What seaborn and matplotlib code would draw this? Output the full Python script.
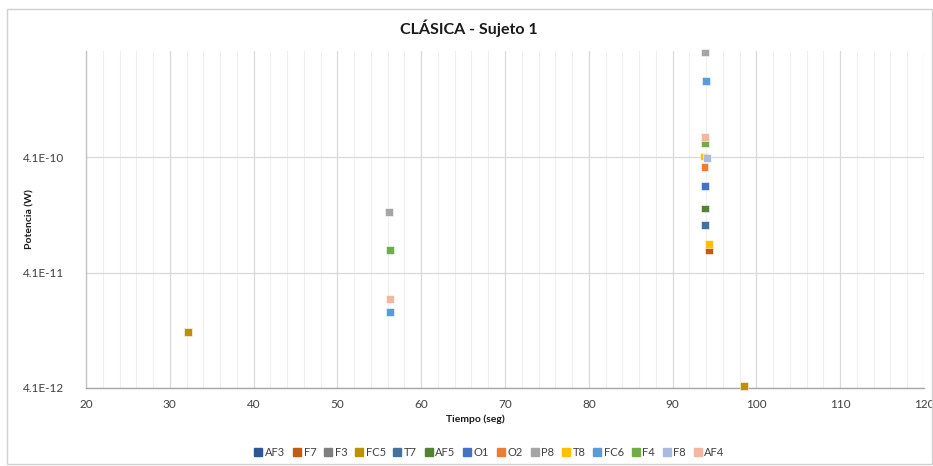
import matplotlib.pyplot as plt
import seaborn as sns
import pandas as pd
from matplotlib.ticker import FixedLocator, MultipleLocator, NullLocator
from matplotlib.lines import Line2D
from matplotlib.patches import Rectangle

# Datos
canales = ['AF3', 'F7', 'F3', 'FC5', 'T7', 'AF5', 'O1', 'O2', 'P8', 'T8', 'FC6', 'F4', 'F8', 'AF4']
colores = ['#2F5597', '#C55A11', '#7F7F7F', '#BF9000', '#41719C', '#548235', '#4472C4',
           '#ED7D31', '#A5A5A5', '#FFC000', '#5B9BD5', '#70AD47', '#A9B9E0', '#F4B6A0']

canal_pts = ['FC5', 'FC5', 'P8', 'F4', 'AF4', 'FC6',
             'P8', 'FC6', 'AF4', 'F4', 'T8', 'F8', 'O2', 'O1', 'AF5', 'T7', 'F7', 'T8']
tiempo = [32.2, 98.5, 56.2, 56.3, 56.3, 56.3,
          93.9, 94.0, 93.9, 93.9, 93.7, 94.1, 93.8, 93.9, 93.9, 93.9, 94.3, 94.3]
potencia = [1.25e-11, 4.25e-12, 1.37e-10, 6.4e-11, 2.42e-11, 1.87e-11,
            3.3e-9, 1.88e-9, 6.15e-10, 5.45e-10, 4.15e-10, 4.0e-10, 3.35e-10, 2.3e-10,
            1.47e-10, 1.06e-10, 6.4e-11, 7.3e-11]

yticks = [4.1e-12, 4.1e-11, 4.1e-10]
ytick_labels = ['4.1E-12', '4.1E-11', '4.1E-10']

df = pd.DataFrame({'Canal': canal_pts, 'Tiempo': tiempo, 'Potencia': potencia})
orden = {c: i for i, c in enumerate(canales)}
df['orden'] = df['Canal'].map(orden)
df = df.sort_values('orden', kind='stable')

sns.set_theme(style="white")
plt.rcParams['font.family'] = ['Lato', 'DejaVu Sans']

fig = plt.figure(figsize=(9.33, 4.66), dpi=100)
ax = fig.add_axes([86 / 933, 1 - 388 / 466, (924 - 86) / 933, (388 - 51) / 466])

paleta = dict(zip(canales, colores))
sns.scatterplot(data=df, x='Tiempo', y='Potencia', hue='Canal', palette=paleta,
                marker='s', s=32, edgecolor='white', linewidth=0.4, legend=False,
                ax=ax, zorder=3, clip_on=False)

ax.set_yscale('log')
ax.set_xlim(20, 120)
ax.set_ylim(4.1e-12, 3.4e-9)
ax.yaxis.set_major_locator(FixedLocator(yticks))
ax.yaxis.set_minor_locator(NullLocator())
ax.set_yticklabels(ytick_labels)
ax.xaxis.set_major_locator(MultipleLocator(10))
ax.xaxis.set_minor_locator(MultipleLocator(2))

ax.grid(which='major', axis='both', color='#D9D9D9', linewidth=0.9)
ax.grid(which='minor', axis='x', color='#EFEFEF', linewidth=0.8)
ax.set_axisbelow(True)
for lado in ['top', 'right']:
    ax.spines[lado].set_visible(False)
ax.spines['left'].set_color('#BFBFBF')
ax.spines['bottom'].set_color('#A6A6A6')
ax.spines['left'].set_linewidth(0.9)
ax.spines['bottom'].set_linewidth(1.0)
ax.tick_params(axis='both', which='both', length=0, labelsize=8.5, labelcolor='#404040')
ax.tick_params(axis='x', pad=8)
ax.tick_params(axis='y', pad=16)
ax.set_xlabel('')
ax.set_ylabel('')

fig.text(0.503, 0.94, 'CLÁSICA - Sujeto 1', ha='center', va='center', fontsize=11.5,
         fontweight='bold', color='#1a1a1a')
fig.text(0.509, 0.101, 'Tiempo (seg)', ha='center', va='center', fontsize=7.5,
         fontweight='bold', color='#1a1a1a')
fig.text(0.032, 1 - 219.5 / 466, 'Potencia (W)', ha='center', va='center', rotation=90,
         fontsize=7.5, fontweight='bold', color='#1a1a1a')

handles = [Line2D([], [], marker='s', linestyle='', color=c, markersize=5.5) for c in colores]
fig.legend(handles, canales, loc='center', bbox_to_anchor=(0.525, 0.03), ncol=len(canales),
           frameon=False, fontsize=8, handletextpad=0.3, columnspacing=0.75, handlelength=0.6,
           labelcolor='#404040')

fig.patches.append(Rectangle((7 / 933, 2 / 466), 925 / 933, 455 / 466, transform=fig.transFigure,
                             fill=False, edgecolor='#D0D0D0', linewidth=1.0))

plt.savefig('out.png', dpi=100)
